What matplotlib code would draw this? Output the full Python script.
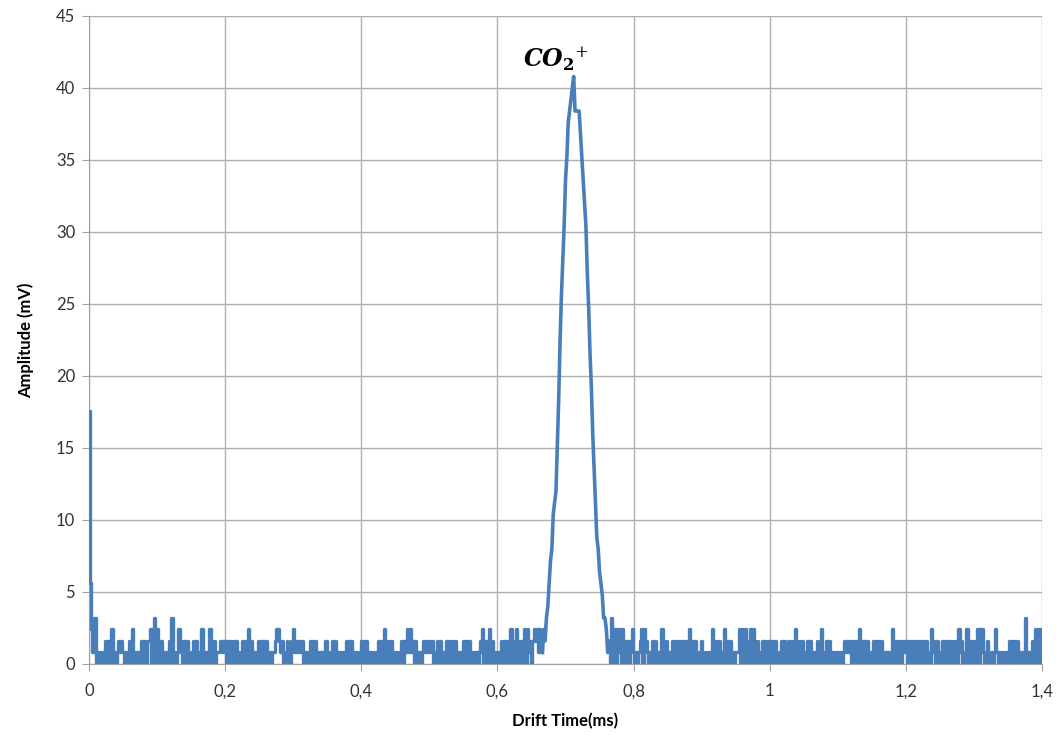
import numpy as np
import matplotlib
matplotlib.use("Agg")
import matplotlib.pyplot as plt
from matplotlib.ticker import FuncFormatter

# ADC levels used by the baseline code strings (mV)
levels = [0.0, 0.8, 1.6, 2.4, 3.2]
dt = 0.002  # ms between samples

# first samples after t=0 (mV)
head_t0 = 0.0
head_mv = [17.6, 5.6, 2.4, 0.8, 3.2, 3.2, 0.0, 0.8]

# baseline noise, one digit per sample -> index into levels
pre_blocks = [
    (0.016, "0101" "20202" "30" "10" "12121" "0101" "2030" "10101" "20202" "230340"),
    (0.100, "301" "20010" "120" "4" "0101" "3" "1202020" "10120" "2001" "3" "01010" "3" "10201" "11212"),
    (0.200, "2020202020" "101202" "030" "210101" "2020021" "010112" "332" "120012002"),
    (0.300, "3" "1121212" "01010201" "2010" "101020" "1012020" "101010" "2020210" "1010"),
    (0.400, "2020210" "101010" "2020" "30" "12020" "101010" "202" "1313" "1202" "10101" "2121"),
    (0.500, "2120" "102020" "101" "2020202" "01010" "2020201" "010101" "230202302" "101"),
    (0.600, "01020" "20202" "30" "2030" "2020" "303" "1202" "323132"),
]
post_blocks = [
    (0.766, "04030313030202023"),
    (0.800, "101012" "3032" "101020" "20101" "30" "120101" "20202020202" "030" "2020101"),
    (0.900, "20010101" "30" "1202010" "30" "202010111" "30303020303" "20200120202"),
    (1.000, "2020200" "10202002020" "030" "02020012020" "101200" "30" "012020" "1010"),
    (1.100, "1010" "121212020202" "30" "202020" "10" "20202020" "010101" "3" "020202021"),
    (1.200, "201" "2020202020202" "010" "3" "1202001" "20202020202" "03" "12001" "3" "0202"),
    (1.300, "020" "3033" "101200101" "3" "101010101" "2020202" "01010" "4" "010120" "303033"),
]

# CO2+ peak (mV), samples from 0.666 ms
peak_t0 = 0.666
peak_mv = [0.8, 2.4, 1.6, 3.2, 4.0, 5.6, 7.2, 8.0, 10.4, 11.2,
           12.0, 15.2, 18.4, 22.4, 25.6, 28.0, 30.4, 33.6, 35.2, 37.6,
           38.4, 39.2, 40.0, 40.8, 38.4, 38.4, 38.4, 38.4, 36.8, 35.2,
           33.6, 32.0, 30.4, 27.2, 24.8, 21.6, 19.2, 16.0, 13.6, 11.2,
           8.8, 8.0, 6.4, 5.6, 4.8, 3.2, 3.2, 2.4, 0.8, 1.6]

x_ticks = [0, 0.2, 0.4, 0.6, 0.8, 1.0, 1.2, 1.4]
y_ticks = [0, 5, 10, 15, 20, 25, 30, 35, 40, 45]


def build(segs):
    T, V = [], []
    for t0, vals in segs:
        T.extend(t0 + dt * np.arange(len(vals)))
        V.extend(vals)
    return T, V


pre_T, pre_V = build([(head_t0, head_mv)] +
                     [(t0, [levels[int(c)] for c in s]) for t0, s in pre_blocks])
pk_T, pk_V = build([(peak_t0, peak_mv)])
post_T, post_V = build([(t0, [levels[int(c)] for c in s]) for t0, s in post_blocks])

plt.rcParams['font.family'] = ['Lato', 'DejaVu Sans']
plt.rcParams['mathtext.fontset'] = 'dejavuserif'

fig = plt.figure(figsize=(10.63, 7.36), dpi=100)
ax = fig.add_axes([89/1063, 1 - 664/736, (1042-89)/1063, (664-16)/736])

blue = '#4a7ebb'
ax.plot(pre_T + pk_T[:1], pre_V + pk_V[:1], color=blue, lw=2.4, drawstyle='steps-mid', zorder=3)
ax.plot(pk_T, pk_V, color=blue, lw=2.6, zorder=3)
ax.plot(pk_T[-1:] + post_T, pk_V[-1:] + post_V, color=blue, lw=2.4, drawstyle='steps-mid', zorder=3)

ax.set_xlim(0, 1.4)
ax.set_ylim(0, 45)
ax.set_xticks(x_ticks)
ax.set_yticks(y_ticks)
ax.xaxis.set_major_formatter(FuncFormatter(lambda v, p: ('%g' % round(v, 1)).replace('.', ',')))
ax.grid(True, color='#b0b0b0', lw=1.0)
ax.set_axisbelow(True)
for s in ['top', 'right']:
    ax.spines[s].set_visible(False)
for s in ['left', 'bottom']:
    ax.spines[s].set_color('#a0a0a0')
ax.tick_params(axis='both', colors='#a0a0a0', length=5, labelcolor='#333333', labelsize=12)
ax.tick_params(axis='x', pad=9)
ax.tick_params(axis='y', pad=5)

ax.set_xlabel('Drift Time(ms)', fontsize=12, fontweight='bold', labelpad=10)
ax.set_ylabel('Amplitude (mV)', fontsize=12, fontweight='bold', labelpad=16)

ax.text(0.686, 42.0, r'$\mathbfit{CO}_{\mathbf{2}}{}^{+}$', fontsize=17, ha='center', va='center')

fig.savefig('out.png', dpi=100)
